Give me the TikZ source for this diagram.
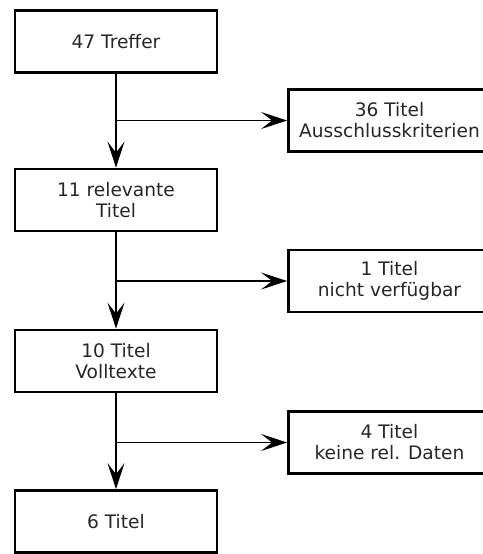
\documentclass[tikz,border=0pt]{standalone}
\usepackage{fontspec}
\setmainfont{DejaVu Sans}
\usetikzlibrary{arrows.meta}

\begin{document}
\begin{tikzpicture}[x=0.5pt, y=-0.5pt, line join=miter,
    box/.style={draw, line width=1.4pt, minimum width=101pt, minimum height=31pt,
      inner sep=0pt, align=center, text=black!85, font=\fontsize{9.3}{10.5}\selectfont},
    flow/.style={line width=0.85pt, -{Stealth[length=13pt, width=8.5pt, inset=5.5pt]}}]
  \clip (0,0) rectangle (483,554);

  % main column
  \node[box] (treffer)  at (116,41.5) {47 Treffer};
  \node[box] (relevant) at (116,200)  {11 relevante\\Titel};
  \node[box] (volltext) at (116,361)  {10 Titel\\Volltexte};
  \node[box] (ende)     at (116,521.5) {6 Titel};

  % excluded titles
  \node[box] (ausschluss) at (389.5,120.5) {36 Titel\\Ausschlusskriterien};
  \node[box] (nverf)      at (389.5,281)   {1 Titel\\nicht verfügbar};
  \node[box] (keine)      at (389.5,442.5) {4 Titel\\keine rel. Daten};

  \draw[flow] (treffer) -- (relevant);
  \draw[flow] (relevant) -- (volltext);
  \draw[flow] (volltext) -- (ende);

  \draw[flow] (treffer |- ausschluss) -- (ausschluss);
  \draw[flow] (relevant |- nverf) -- (nverf);
  \draw[flow] (volltext |- keine) -- (keine);
\end{tikzpicture}
\end{document}
